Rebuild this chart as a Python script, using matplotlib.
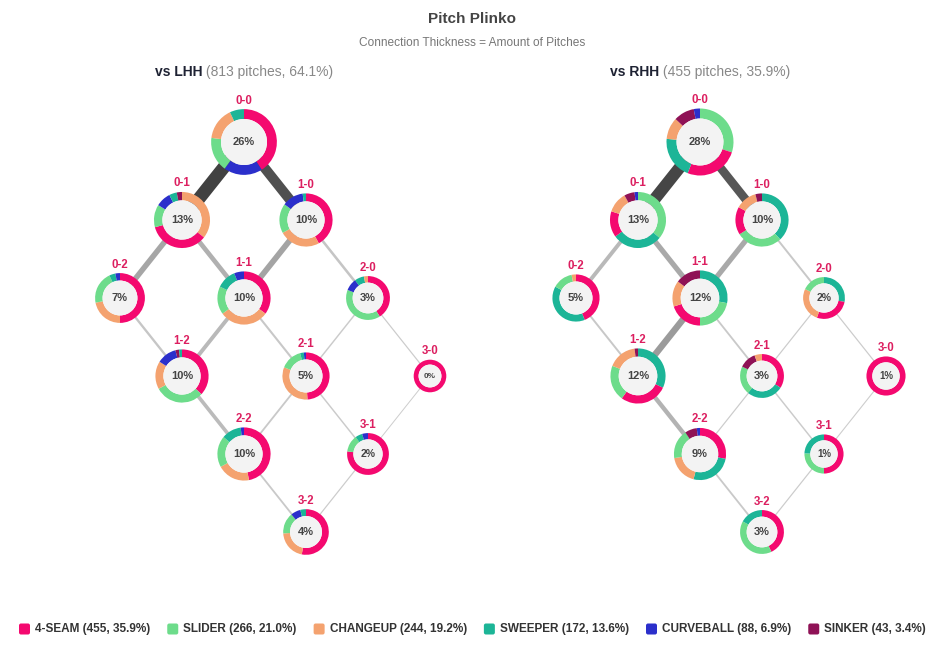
import numpy as np
import matplotlib
matplotlib.use("Agg")
import matplotlib.pyplot as plt
from matplotlib.patches import Wedge, Circle, FancyBboxPatch
from matplotlib import font_manager

plt.rcParams['font.family'] = ['Liberation Sans', 'DejaVu Sans']
installed = {f.name for f in font_manager.fontManager.ttflist}
narrow = 'Liberation Sans Narrow' if 'Liberation Sans Narrow' in installed else 'Liberation Sans'

# ---- data ----
counts = ["0-0", "0-1", "1-0", "0-2", "1-1", "2-0", "1-2", "2-1", "3-0", "2-2", "3-1", "3-2"]

pitch_types = ["4-SEAM", "SLIDER", "CHANGEUP", "SWEEPER", "CURVEBALL", "SINKER"]
pitch_totals = [455, 266, 244, 172, 88, 43]
pitch_pcts = [35.9, 21.0, 19.2, 13.6, 6.9, 3.4]
pitch_colors = ["#f4096f", "#6ddc8b", "#f4a26f", "#1cb597", "#2b2fcb", "#8f1256"]

lhh_share = [26, 13, 10, 7, 10, 3, 10, 5, 0, 10, 2, 4]
rhh_share = [28, 13, 10, 5, 12, 2, 12, 3, 1, 9, 1, 3]

# pitch mix per count, in pitch_types order
lhh_mix = [
    [41, 17, 16, 7, 19, 0],
    [35, 13, 35.5, 4.4, 8.6, 3],
    [42, 18, 25, 2, 13, 0],
    [50, 21, 22, 4, 3, 0],
    [35, 17, 30, 12, 6, 0],
    [41, 40, 3, 7, 9, 0],
    [37, 30, 17, 1.8, 12, 2.2],
    [49, 15, 32, 2.5, 1.5, 0],
    [100, 0, 0, 0, 0, 0],
    [47, 19, 20, 12, 2, 0],
    [77, 13, 0, 5.5, 4.5, 0],
    [53, 15, 21, 4, 7, 0],
]
rhh_mix = [
    [26, 30, 10.5, 20.5, 3, 10],
    [15, 36, 12, 29, 2, 6],
    [17, 28, 13, 38, 0, 4],
    [44, 14, 3, 39, 0, 0],
    [20, 22, 15.2, 28, 0, 14.8],
    [27.5, 18, 26.5, 28, 0, 0],
    [28, 21, 17, 32, 0, 2],
    [34, 21, 5.5, 27, 0, 12.5],
    [100, 0, 0, 0, 0, 0],
    [28, 18, 18.5, 26, 2, 7.5],
    [50, 25.5, 0, 24.5, 0, 0],
    [43, 40, 0, 17, 0, 0],
]

edges = [("0-0", "0-1"), ("0-0", "1-0"), ("0-1", "0-2"), ("0-1", "1-1"), ("1-0", "1-1"),
         ("1-0", "2-0"), ("0-2", "1-2"), ("1-1", "1-2"), ("1-1", "2-1"), ("2-0", "2-1"),
         ("2-0", "3-0"), ("1-2", "2-2"), ("2-1", "2-2"), ("2-1", "3-1"), ("3-0", "3-1"),
         ("2-2", "3-2"), ("3-1", "3-2")]
lhh_flow = [106, 82, 45, 38, 47, 21, 19, 32, 17, 12, 10, 30, 15, 12, 8, 15, 10]
rhh_flow = [98, 70, 32, 43, 43, 16, 16, 53, 15, 10, 10, 36, 10, 12, 9, 15, 10]

# ---- layout ----
W, H = 945, 657
STEP_X, STEP_Y, TOP_Y = 62, 78, 142
LEFT_X, RIGHT_X = 244, 700

fig = plt.figure(figsize=(W / 100, H / 100), dpi=100)
ax = fig.add_axes([0, 0, 1, 1])
ax.set_xlim(0, W)
ax.set_ylim(H, 0)
ax.axis("off")


def node_xy(ox, count):
    b, s = map(int, count.split("-"))
    return ox + (b - s) * STEP_X, TOP_Y + (b + s) * STEP_Y


def radius(share):
    return 16.3 + 17.2 * np.sqrt(share / 28)


def draw_panel(ox, share, mix, flow):
    pos = {c: node_xy(ox, c) for c in counts}
    for (a, b), f in zip(edges, flow):
        w = f * 0.122
        g = np.interp(w, [1, 3, 5, 6.5, 8, 13], [205, 195, 172, 155, 90, 65]) / 255
        ax.plot([pos[a][0], pos[b][0]], [pos[a][1], pos[b][1]], color=(g, g, g),
                lw=w * 0.72, solid_capstyle="butt", zorder=1)
    for c, sh, m in zip(counts, share, mix):
        cx, cy = pos[c]
        r = radius(sh)
        ring = 0.3 * r
        vals = np.array(m, dtype=float)
        order = np.argsort(-vals, kind="stable")
        start = -90.0
        for i in order:
            if vals[i] <= 0:
                continue
            span = 360 * vals[i] / vals.sum()
            ax.add_patch(Wedge((cx, cy), r, start, start + span, width=ring,
                               facecolor=pitch_colors[i], edgecolor="none", zorder=3))
            start += span
        ax.add_patch(Circle((cx, cy), r - ring, facecolor="#f3f3f3", edgecolor="none", zorder=3))
        fs = np.clip(r * 0.36, 5.6, 8)
        ax.text(cx, cy, f"{sh}%", ha="center", va="center", fontsize=fs,
                fontweight="bold", color="#444444", zorder=4)
        ax.text(cx, cy - r - 8.5, c, ha="center", va="center", fontsize=8.3,
                fontweight="bold", color="#dc1f60", zorder=4)


draw_panel(LEFT_X, lhh_share, lhh_mix, lhh_flow)
draw_panel(RIGHT_X, rhh_share, rhh_mix, rhh_flow)

# titles
ax.text(W / 2, 19, "Pitch Plinko", ha="center", va="center", fontsize=11,
        fontweight="bold", color="#444444")
ax.text(W / 2, 43, "Connection Thickness = Amount of Pitches", ha="center",
        va="center", fontsize=8.6, color="#777777")

renderer = fig.canvas.get_renderer()


def panel_title(cx, bold, rest):
    t1 = ax.text(0, 72, bold, ha="left", va="center", fontsize=10,
                 fontweight="bold", color="#1e2233")
    t2 = ax.text(0, 72, rest, ha="left", va="center", fontsize=10, color="#888888")
    w1 = t1.get_window_extent(renderer).width
    w2 = t2.get_window_extent(renderer).width
    x0 = cx - (w1 + w2) / 2
    t1.set_x(x0)
    t2.set_x(x0 + w1)


panel_title(LEFT_X, "vs LHH", " (813 pitches, 64.1%)")
panel_title(RIGHT_X, "vs RHH", " (455 pitches, 35.9%)")

# legend
labels = [f"{n} ({t}, {p:.1f}%)" for n, t, p in zip(pitch_types, pitch_totals, pitch_pcts)]
texts = [ax.text(0, 629, lab, ha="left", va="center", fontsize=8.5, family=narrow,
                 fontweight="bold", color="#333333") for lab in labels]
widths = [t.get_window_extent(renderer).width for t in texts]
sq, gap1, gap2 = 11, 5, 17
total = sum(sq + gap1 + w for w in widths) + gap2 * (len(widths) - 1)
x = W / 2 - total / 2
for t, w, col in zip(texts, widths, pitch_colors):
    ax.add_patch(FancyBboxPatch((x, 629 - sq / 2), sq, sq,
                                boxstyle="round,pad=0,rounding_size=2",
                                facecolor=col, edgecolor="none"))
    t.set_x(x + sq + gap1)
    x += sq + gap1 + w + gap2

fig.savefig("out.png", dpi=100, facecolor="white")
